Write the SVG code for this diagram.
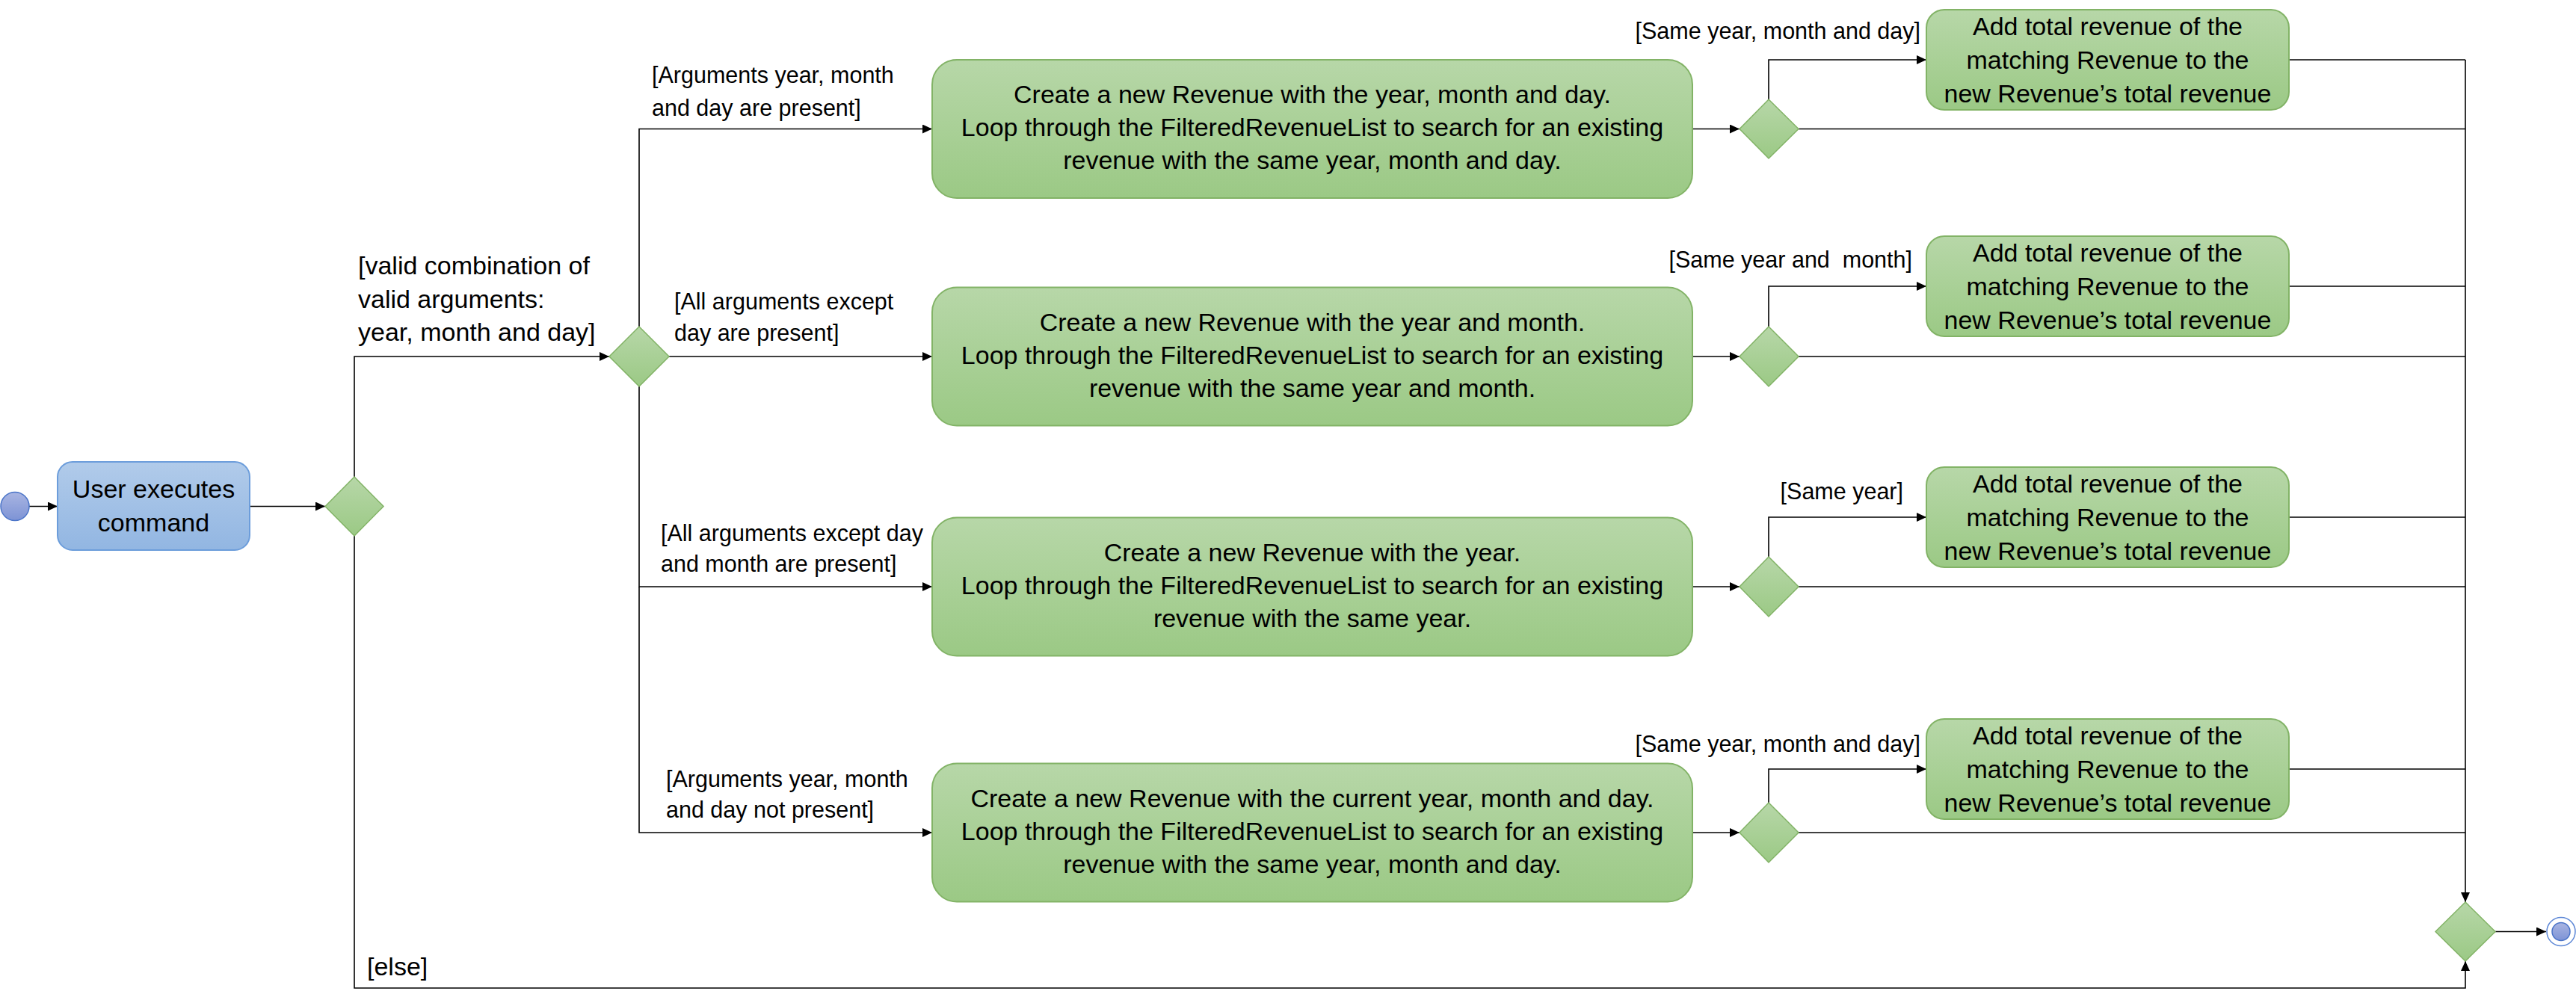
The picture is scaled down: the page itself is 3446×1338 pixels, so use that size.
<svg xmlns="http://www.w3.org/2000/svg" width="3446" height="1338" viewBox="0 0 3446 1338">
<style>
.t{font-family:"Liberation Sans",Arial,sans-serif;font-size:34px;fill:#000}
.m{text-anchor:middle}
.e{text-anchor:end}
.l{font-size:30.5px}
.act{fill:url(#gGreen);stroke:#82B366;stroke-width:2}
.dec{fill:url(#gGreen);stroke:#82B366;stroke-width:1.5}
.c{fill:none;stroke:#000;stroke-width:1.6}
.a{marker-end:url(#arr)}
</style>
<defs>
<linearGradient id="gGreen" x1="0" y1="0" x2="0" y2="1">
<stop offset="0" stop-color="#B7D7A8"/>
<stop offset="1" stop-color="#9BC985"/>
</linearGradient>
<linearGradient id="gBlue" x1="0" y1="0" x2="0" y2="1">
<stop offset="0" stop-color="#B1CBEA"/>
<stop offset="1" stop-color="#92B6E2"/>
</linearGradient>
<linearGradient id="gNode" x1="0" y1="0" x2="0" y2="1">
<stop offset="0" stop-color="#A9B5E2"/>
<stop offset="1" stop-color="#7D93D5"/>
</linearGradient>
<marker id="arr" markerUnits="userSpaceOnUse" markerWidth="13" markerHeight="12" refX="13" refY="6" orient="auto">
<path d="M0,0 L13,6 L0,12 Z" fill="#000"/>
</marker>
</defs>
<rect width="3446" height="1338" fill="#fff"/>

<g id="connectors">
<path class="c a" d="M39,677.5 H77"/>
<path class="c a" d="M334,677.5 H435"/>
<path class="c a" d="M474,638 V477 H815"/>
<path class="c a" d="M474,717 V1322 H3298 V1286"/>
<path class="c a" d="M855,437 V172.5 H1247"/>
<path class="c a" d="M895,477 H1247"/>
<path class="c a" d="M855,517 V785 H1247"/>
<path class="c a" d="M855,785 V1114 H1247"/>
<path class="c a" d="M2264,172.5 H2327"/>
<path class="c a" d="M2264,477 H2327"/>
<path class="c a" d="M2264,785 H2327"/>
<path class="c a" d="M2264,1114 H2327"/>
<path class="c a" d="M2366,133 V80 H2577"/>
<path class="c a" d="M2366,437 V383 H2577"/>
<path class="c a" d="M2366,745 V692 H2577"/>
<path class="c a" d="M2366,1074 V1029 H2577"/>
<path class="c" d="M3062,80 H3298"/>
<path class="c" d="M3062,383 H3298"/>
<path class="c" d="M3062,692 H3298"/>
<path class="c" d="M3062,1029 H3298"/>
<path class="c" d="M2406,172.5 H3298"/>
<path class="c" d="M2406,477 H3298"/>
<path class="c" d="M2406,785 H3298"/>
<path class="c" d="M2406,1114 H3298"/>
<path class="c a" d="M3298,80 V1207"/>
<path class="c a" d="M3338,1246.5 H3406"/>
<text class="t" x="479" y="367">[valid combination of</text>
<text class="t" x="479" y="412">valid arguments:</text>
<text class="t" x="479" y="456">year, month and day]</text>
<text class="t l" x="872" y="111">[Arguments year, month</text>
<text class="t l" x="872" y="155">and day are present]</text>
<text class="t l" x="902" y="414">[All arguments except</text>
<text class="t l" x="902" y="456">day are present]</text>
<text class="t l" x="884" y="724">[All arguments except day</text>
<text class="t l" x="884" y="765">and month are present]</text>
<text class="t l" x="891" y="1053">[Arguments year, month</text>
<text class="t l" x="891" y="1094">and day not present]</text>
<text class="t" x="491" y="1305">[else]</text>
<text class="t l e" x="2569" y="52">[Same year, month and day]</text>
<text class="t l e" x="2558" y="358" style="white-space:pre">[Same year and  month]</text>
<text class="t l e" x="2546" y="668">[Same year]</text>
<text class="t l e" x="2569" y="1006">[Same year, month and day]</text>
</g>

<g id="start">
<circle cx="20" cy="677.5" r="19" fill="url(#gNode)" stroke="#4A74C8" stroke-width="1.5"/>
</g>

<g id="user-executes">
<rect x="77" y="618" width="257" height="118" rx="20" fill="url(#gBlue)" stroke="#6C9DDB" stroke-width="2"/>
<text class="t m" x="205.5" y="666">User executes</text>
<text class="t m" x="205.5" y="710.5">command</text>
</g>

<g id="decision-valid">
<path class="dec" d="M474,638 L513,677.5 L474,717 L435,677.5 Z"/>
</g>

<g id="decision-args">
<path class="dec" d="M855,437 L895,477 L855,517 L815,477 Z"/>
</g>

<g id="create-ymd">
<rect class="act" x="1247" y="80" width="1017" height="185" rx="33"/>
<text class="t m" x="1755.5" y="138">Create a new Revenue with the year, month and day.</text>
<text class="t m" x="1755.5" y="182">Loop through the FilteredRevenueList to search for an existing</text>
<text class="t m" x="1755.5" y="226">revenue with the same year, month and day.</text>
</g>

<g id="create-ym">
<rect class="act" x="1247" y="384.5" width="1017" height="185" rx="33"/>
<text class="t m" x="1755.5" y="442.5">Create a new Revenue with the year and month.</text>
<text class="t m" x="1755.5" y="486.5">Loop through the FilteredRevenueList to search for an existing</text>
<text class="t m" x="1755.5" y="530.5">revenue with the same year and month.</text>
</g>

<g id="create-y">
<rect class="act" x="1247" y="692.5" width="1017" height="185" rx="33"/>
<text class="t m" x="1755.5" y="750.5">Create a new Revenue with the year.</text>
<text class="t m" x="1755.5" y="794.5">Loop through the FilteredRevenueList to search for an existing</text>
<text class="t m" x="1755.5" y="838.5">revenue with the same year.</text>
</g>

<g id="create-current">
<rect class="act" x="1247" y="1021.5" width="1017" height="185" rx="33"/>
<text class="t m" x="1755.5" y="1079.5">Create a new Revenue with the current year, month and day.</text>
<text class="t m" x="1755.5" y="1123.5">Loop through the FilteredRevenueList to search for an existing</text>
<text class="t m" x="1755.5" y="1167.5">revenue with the same year, month and day.</text>
</g>

<g id="decision-1">
<path class="dec" d="M2366,133 L2406,172.5 L2366,212 L2327,172.5 Z"/>
</g>
<g id="decision-2">
<path class="dec" d="M2366,437 L2406,477 L2366,517 L2327,477 Z"/>
</g>
<g id="decision-3">
<path class="dec" d="M2366,745 L2406,785 L2366,825 L2327,785 Z"/>
</g>
<g id="decision-4">
<path class="dec" d="M2366,1074 L2406,1114 L2366,1154 L2327,1114 Z"/>
</g>

<g id="add-1">
<rect class="act" x="2577" y="13" width="485" height="134" rx="24"/>
<text class="t m" x="2819.5" y="46.5">Add total revenue of the</text>
<text class="t m" x="2819.5" y="91.5">matching Revenue to the</text>
<text class="t m" x="2819.5" y="136.5">new Revenue’s total revenue</text>
</g>
<g id="add-2">
<rect class="act" x="2577" y="316" width="485" height="134" rx="24"/>
<text class="t m" x="2819.5" y="349.5">Add total revenue of the</text>
<text class="t m" x="2819.5" y="394.5">matching Revenue to the</text>
<text class="t m" x="2819.5" y="439.5">new Revenue’s total revenue</text>
</g>
<g id="add-3">
<rect class="act" x="2577" y="625" width="485" height="134" rx="24"/>
<text class="t m" x="2819.5" y="658.5">Add total revenue of the</text>
<text class="t m" x="2819.5" y="703.5">matching Revenue to the</text>
<text class="t m" x="2819.5" y="748.5">new Revenue’s total revenue</text>
</g>
<g id="add-4">
<rect class="act" x="2577" y="962" width="485" height="134" rx="24"/>
<text class="t m" x="2819.5" y="995.5">Add total revenue of the</text>
<text class="t m" x="2819.5" y="1040.5">matching Revenue to the</text>
<text class="t m" x="2819.5" y="1085.5">new Revenue’s total revenue</text>
</g>

<g id="merge">
<path class="dec" d="M3298,1207 L3338,1246.5 L3298,1286 L3258,1246.5 Z"/>
</g>

<g id="end">
<circle cx="3426" cy="1246.5" r="19" fill="#fff" stroke="#5B86D6" stroke-width="1.5"/>
<circle cx="3426" cy="1246.5" r="12" fill="url(#gNode)" stroke="#4A74C8" stroke-width="1.5"/>
</g>
</svg>
